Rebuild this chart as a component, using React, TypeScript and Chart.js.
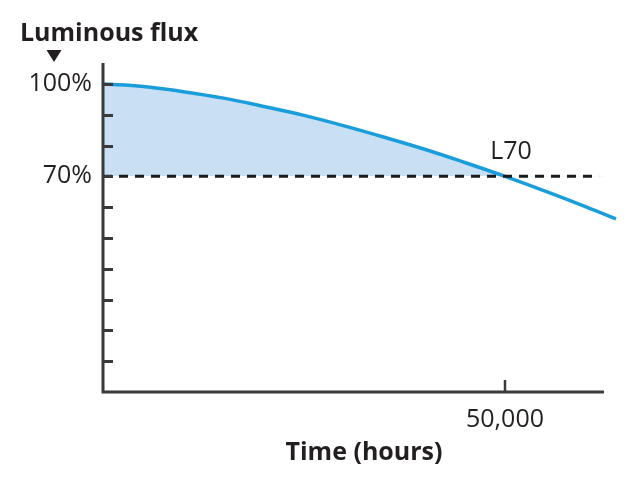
import React, { useEffect, useRef } from 'react';
import { Chart, registerables } from 'chart.js';

Chart.register(...registerables);

// Curve data (hours, % luminous flux)
const hours = [0, 5000, 10000, 15000, 20000, 25000, 30000, 35000, 40000, 45000, 50000, 55000, 60000, 63800];
const flux = [100, 99.2, 97.5, 95.4, 92.7, 89.8, 86.4, 82.7, 78.8, 74.5, 70, 65.2, 60.2, 56.2];

// L70 threshold line
const thresholdHours = [0, 61700];
const thresholdFlux = [70, 70];

// Axis ticks / labels
const yTickValues = [10, 20, 30, 40, 50, 60, 70, 80, 90, 100];
const yLabelValues = [100, 70];
const xTickValues = [50000];
const xTickLabels = ['50,000'];

const yTitle = 'Luminous flux';
const xTitle = 'Time (hours)';
const thresholdLabel = 'L70';

const AXIS = '#3a3a3a';
const TEXT = '#231f20';
const LINE = '#1a9ddb';
const FILL = '#c9e0f4';
const FONT = '"Open Sans", "DejaVu Sans", sans-serif';

const decor = {
  id: 'decor',
  afterDatasetsDraw(chart: any) {
    const { ctx, chartArea, scales } = chart;
    const y = scales.y;
    const x = scales.x;
    ctx.save();
    // axes
    ctx.strokeStyle = AXIS;
    ctx.lineWidth = 3;
    ctx.lineCap = 'butt';
    ctx.beginPath();
    ctx.moveTo(chartArea.left, chartArea.top);
    ctx.lineTo(chartArea.left, chartArea.bottom + 1.5);
    ctx.moveTo(chartArea.left - 1.5, chartArea.bottom);
    ctx.lineTo(chartArea.right, chartArea.bottom);
    ctx.stroke();
    // y ticks (inward)
    ctx.beginPath();
    yTickValues.forEach((v) => {
      const py = Math.round(y.getPixelForValue(v)) + 0.5;
      ctx.moveTo(chartArea.left, py);
      ctx.lineTo(chartArea.left + 10, py);
    });
    ctx.stroke();
    // x ticks (inward)
    ctx.lineWidth = 2.5;
    ctx.beginPath();
    xTickValues.forEach((v) => {
      const px = x.getPixelForValue(v);
      ctx.moveTo(px, chartArea.bottom);
      ctx.lineTo(px, chartArea.bottom - 12);
    });
    ctx.stroke();

    // texts
    ctx.fillStyle = TEXT;
    ctx.textBaseline = 'alphabetic';
    ctx.font = `bold 25px ${FONT}`;
    ctx.textAlign = 'left';
    ctx.fillText(yTitle, 20, 41);
    ctx.textAlign = 'center';
    ctx.fillText(xTitle, 364, 460);
    ctx.font = `25px ${FONT}`;
    ctx.fillText(thresholdLabel, 511, 159);

    // triangle marker
    ctx.beginPath();
    ctx.moveTo(46.5, 50);
    ctx.lineTo(61.5, 50);
    ctx.lineTo(54, 62);
    ctx.closePath();
    ctx.fill();
    ctx.restore();
  },
};

export default function App() {
  const ref = useRef<HTMLCanvasElement | null>(null);
  useEffect(() => {
    if (!ref.current) return;
    const chart = new Chart(ref.current, {
      type: 'line',
      data: {
        datasets: [
          {
            data: thresholdHours.map((h, i) => ({ x: h, y: thresholdFlux[i] })),
            borderColor: '#1a1a1a',
            borderWidth: 3,
            borderDash: [9, 7],
            pointRadius: 0,
            fill: false,
            order: 0,
          },
          {
            data: hours.map((h, i) => ({ x: h, y: flux[i] })),
            borderColor: LINE,
            borderWidth: 3.5,
            pointRadius: 0,
            tension: 0.4,
            clip: false as any,
            fill: { target: { value: 70 }, above: FILL, below: 'rgba(0,0,0,0)' } as any,
            order: 1,
          },
        ],
      },
      options: {
        responsive: false,
        animation: false,
        layout: { padding: { left: 0, right: 36, top: 63, bottom: 0 } },
        plugins: { legend: { display: false }, tooltip: { enabled: false }, title: { display: false } },
        scales: {
          x: {
            type: 'linear',
            min: 0,
            max: 62313,
            grid: { display: false, drawTicks: false },
            border: { display: false },
            afterBuildTicks: (s: any) => {
              s.ticks = xTickValues.map((v) => ({ value: v }));
            },
            afterFit: (s: any) => {
              s.height = 88;
            },
            ticks: {
              autoSkip: false,
              maxRotation: 0,
              padding: 13,
              color: TEXT,
              font: { family: FONT, size: 25 },
              callback: (v: any) => {
                const i = xTickValues.indexOf(Number(v));
                return i >= 0 ? xTickLabels[i] : '';
              },
            },
          },
          y: {
            type: 'linear',
            min: 0,
            max: 106.8,
            grid: { display: false, drawTicks: false },
            border: { display: false },
            afterBuildTicks: (s: any) => {
              s.ticks = yLabelValues.map((v) => ({ value: v }));
            },
            afterFit: (s: any) => {
              s.width = 103;
            },
            ticks: {
              autoSkip: false,
              padding: 11,
              color: TEXT,
              font: { family: FONT, size: 25 },
              callback: (v: any) => `${v}%`,
            },
          },
        },
      },
      plugins: [decor],
    });
    return () => chart.destroy();
  }, []);
  return (
    <div style={{ position: 'absolute', left: 0, top: 0, width: 640, height: 480, background: '#fff' }}>
      <canvas ref={ref} width={640} height={480} style={{ display: 'block' }} />
    </div>
  );
}
